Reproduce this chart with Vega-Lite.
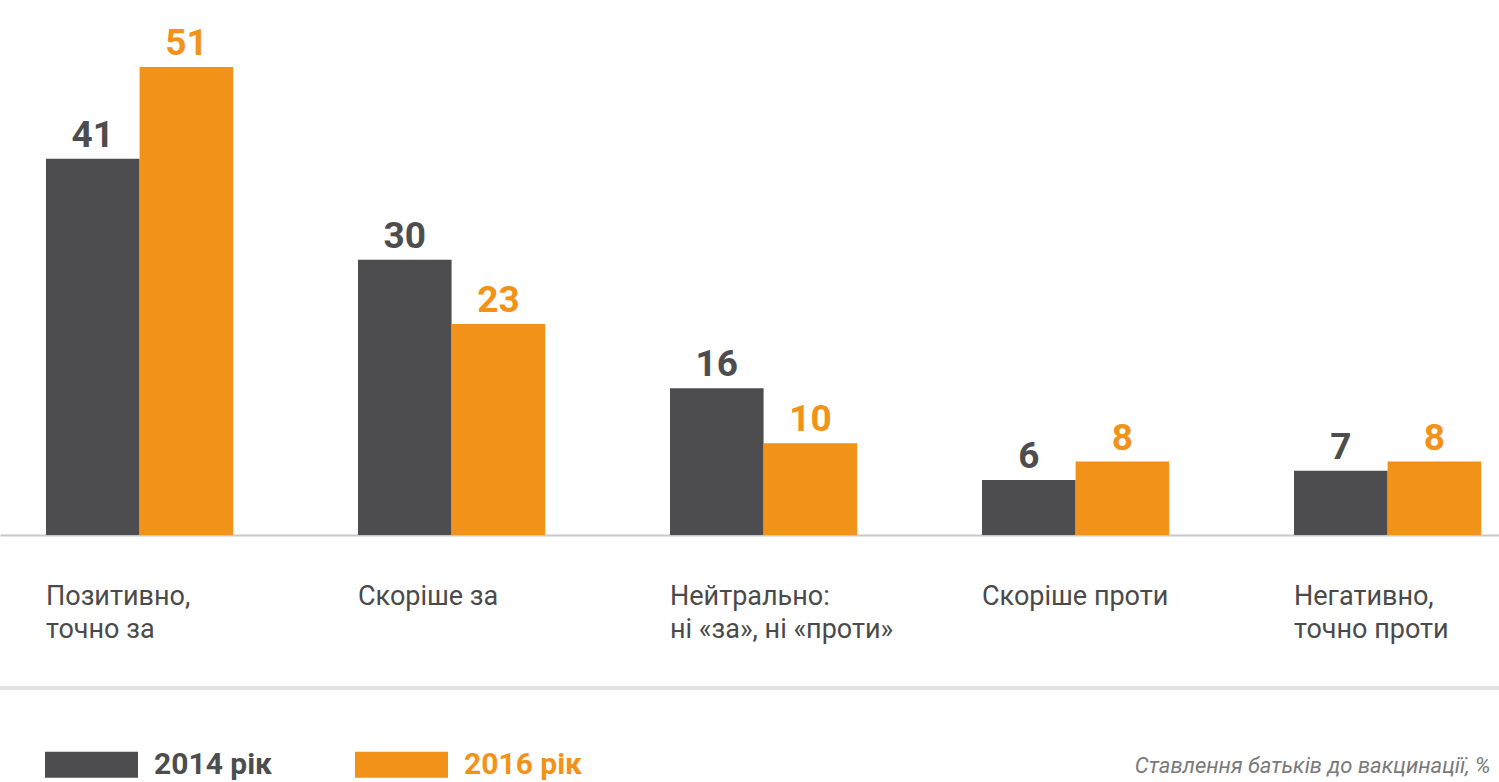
{
  "$schema": "https://vega.github.io/schema/vega-lite/v6.json",
  "width": 1499,
  "height": 535,
  "autosize": {"type": "none"},
  "padding": {"left": 0, "top": 0, "right": 0, "bottom": 247},
  "background": "white",
  "config": {"font": "Roboto", "view": {"stroke": null}},
  "data": {
    "values": [
      {"category": "Позитивно,|точно за", "year": "2014 рік", "value": 41},
      {"category": "Позитивно,|точно за", "year": "2016 рік", "value": 51},
      {"category": "Скоріше за", "year": "2014 рік", "value": 30},
      {"category": "Скоріше за", "year": "2016 рік", "value": 23},
      {"category": "Нейтрально:|ні «за», ні «проти»", "year": "2014 рік", "value": 16},
      {"category": "Нейтрально:|ні «за», ні «проти»", "year": "2016 рік", "value": 10},
      {"category": "Скоріше проти", "year": "2014 рік", "value": 6},
      {"category": "Скоріше проти", "year": "2016 рік", "value": 8},
      {"category": "Негативно,|точно проти", "year": "2014 рік", "value": 7},
      {"category": "Негативно,|точно проти", "year": "2016 рік", "value": 8}
    ]
  },
  "encoding": {
    "x": {
      "field": "category",
      "type": "nominal",
      "sort": null,
      "scale": {"paddingInner": 0.4, "paddingOuter": 0.1022, "align": 0.721},
      "axis": {
        "title": "Ставлення батьків до вакцинації, %",
        "titleFont": "Roboto",
        "titleFontStyle": "italic",
        "titleFontWeight": "normal",
        "titleFontSize": 22,
        "titleColor": "#7a7a7a",
        "titleAnchor": null,
        "titleAlign": "right",
        "titleBaseline": "middle",
        "titleX": 1490,
        "titleY": 230,
        "labelExpr": "split(datum.label, '|')",
        "labelAngle": 0,
        "labelAlign": "left",
        "labelBaseline": "top",
        "labelOffset": -93.6,
        "labelPadding": 48,
        "labelLineHeight": 33,
        "labelFontSize": 27,
        "labelLimit": 0,
        "labelColor": "#4a4a4a",
        "labelFont": "Roboto",
        "ticks": false,
        "domainColor": "#c8c8c8",
        "domainWidth": 2
      }
    },
    "y": {"type": "quantitative"}
  },
  "layer": [
    {
      "mark": {"type": "bar"},
      "encoding": {
        "xOffset": {"field": "year", "type": "nominal", "scale": {"paddingInner": 0, "paddingOuter": 0}},
        "y": {"field": "value", "type": "quantitative", "scale": {"domain": [0, 58.3], "nice": false}, "axis": null},
        "color": {
          "field": "year",
          "type": "nominal",
          "scale": {"domain": ["2014 рік", "2016 рік"], "range": ["#4d4d4f", "#f39218"]},
          "legend": {
            "title": null,
            "orient": "none",
            "direction": "horizontal",
            "legendX": 45,
            "legendY": 718,
            "symbolType": "M-1,-0.28H1V0.28H-1Z",
            "symbolSize": 8649,
            "symbolStrokeWidth": 0,
            "symbolOpacity": 1,
            "labelFont": "Roboto",
            "labelFontWeight": "bold",
            "labelFontSize": 30,
            "labelOffset": 16,
            "columnPadding": 83,
            "labelColor": {"expr": "datum.value === '2016 рік' ? '#f39218' : '#4d4d4f'"}
          }
        }
      }
    },
    {
      "mark": {"type": "text", "baseline": "alphabetic", "dy": -12, "font": "Roboto", "fontWeight": "bold", "fontSize": 37},
      "encoding": {
        "xOffset": {"field": "year", "type": "nominal"},
        "y": {"field": "value", "type": "quantitative"},
        "text": {"field": "value", "type": "quantitative"},
        "color": {"field": "year", "type": "nominal"}
      }
    },
    {
      "mark": {"type": "rule", "color": "#e3e3e3", "strokeWidth": 3},
      "encoding": {
        "y": {"datum": -16.7, "type": "quantitative"},
        "x": null
      }
    }
  ]
}
